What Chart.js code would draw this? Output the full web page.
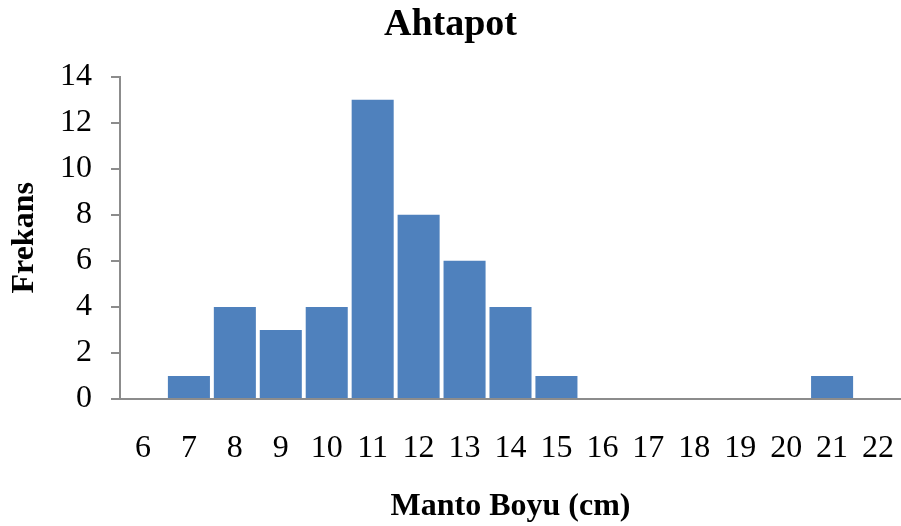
<!DOCTYPE html>
<html>
<head>
<meta charset="utf-8">
<script src="https://cdn.jsdelivr.net/npm/chart.js@4/dist/chart.umd.min.js"></script>
<style>
body{margin:0;background:#fff}
canvas{display:block}
</style>
</head>
<body>
<canvas id="myChart" width="901" height="526"></canvas>
<script>
// data
var boy=["6","7","8","9","10","11","12","13","14","15","16","17","18","19","20","21","22"];
var frekans=[0,1,4,3,4,13,8,6,4,1,0,0,0,0,0,1,0];
var yTicks=[0,2,4,6,8,10,12,14];

Chart.defaults.font.family="'Liberation Serif', 'Times New Roman', serif";
Chart.defaults.color="#000";

const ctx=document.getElementById('myChart');
new Chart(ctx,{
  type:'bar',
  data:{
    labels:boy,
    datasets:[{
      label:'Frekans',
      data:frekans,
      backgroundColor:'#4f81bd',
      borderWidth:0,
      barPercentage:0.915,
      categoryPercentage:1
    }]
  },
  options:{
    responsive:false,
    animation:false,
    layout:{padding:0},
    plugins:{
      legend:{display:false},
      tooltip:{enabled:false},
      title:{
        display:true,
        text:'Ahtapot',
        font:{size:38,weight:'bold'},
        padding:{top:2,bottom:29}
      }
    },
    scales:{
      x:{
        grid:{display:false,drawTicks:false,tickLength:0},
        border:{display:true,color:'#8c8c8c',width:2},
        ticks:{font:{size:32},padding:30,maxRotation:0,autoSkip:false},
        title:{display:true,text:'Manto Boyu (cm)',font:{size:32,weight:'bold'},padding:{top:0,bottom:0}},
        afterFit:function(s){s.height=127;s.paddingLeft=0;s.paddingRight=0;}
      },
      y:{
        min:0,max:14,
        afterBuildTicks:function(s){s.ticks=yTicks.map(v=>({value:v}));},
        grid:{drawOnChartArea:false,drawTicks:true,tickLength:9,color:'#8c8c8c',lineWidth:2},
        border:{display:true,color:'#8c8c8c',width:2},
        ticks:{font:{size:32},padding:19},
        title:{display:true,text:'Frekans',font:{size:32,weight:'bold'},padding:{top:6,bottom:0}},
        afterFit:function(s){s.width=120;s.paddingTop=0;s.paddingBottom=0;}
      }
    }
  }
});
</script>
</body>
</html>
